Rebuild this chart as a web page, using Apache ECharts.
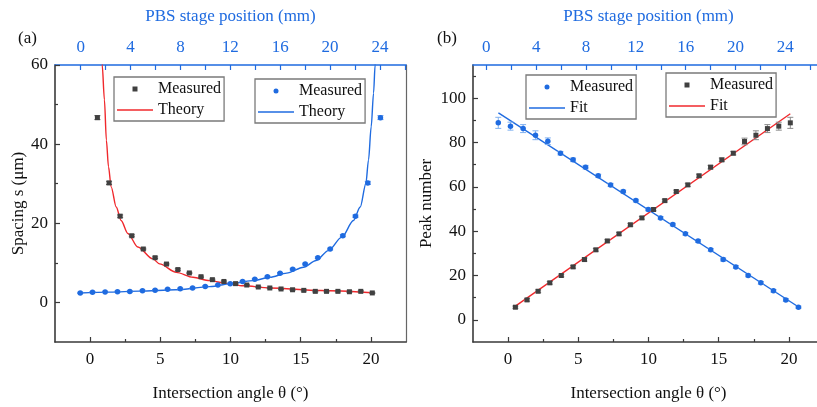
<!DOCTYPE html>
<html>
<head>
<meta charset="utf-8">
<script src="https://cdn.jsdelivr.net/npm/echarts@6/dist/echarts.min.js"></script>
<style>
  html, body { margin: 0; padding: 0; background: #fff; }
  #chart { width: 817px; height: 407px; }
</style>
</head>
<body>
<div id="chart"></div>
<script>
// intersection angles (deg) of the two measured sets
var angleBlue = [-0.7, 0.17, 1.07, 1.95, 2.83, 3.73, 4.63, 5.52, 6.42, 7.3, 8.2, 9.1, 9.98,
  10.86, 11.73, 12.63, 13.53, 14.43, 15.32, 16.22, 17.1, 18.0, 18.9, 19.78, 20.68];
var angleBlack = [0.52, 1.35, 2.14, 2.97, 3.79, 4.63, 5.44, 6.25, 7.07, 7.9, 8.71, 9.53, 10.36,
  11.16, 11.98, 12.8, 13.6, 14.42, 15.22, 16.04, 16.84, 17.65, 18.47, 19.28, 20.1];

// (a) spacing s (um)
var spacingBlack = [46.7, 30.2, 21.8, 16.85, 13.5, 11.3, 9.7, 8.3, 7.45, 6.5, 5.75, 5.3, 4.75,
  4.4, 3.9, 3.65, 3.4, 3.2, 3.05, 2.8, 2.8, 2.8, 2.7, 2.8, 2.4];
var errSpacingBlack = [0.5, 0.4, 0.3, 0.25, 0.2, 0.2, 0.2, 0.2, 0.15, 0.15, 0.15, 0.15, 0.15,
  0.15, 0.15, 0.15, 0.15, 0.15, 0.15, 0.15, 0.15, 0.15, 0.15, 0.15, 0.15];
var spacingBlue = [2.4, 2.6, 2.65, 2.7, 2.75, 2.95, 3.1, 3.3, 3.45, 3.65, 4.05, 4.4, 4.7,
  5.3, 5.85, 6.5, 7.35, 8.4, 9.7, 11.3, 13.5, 16.85, 21.8, 30.2, 46.7];
var errSpacingBlue = [0.15, 0.15, 0.15, 0.15, 0.15, 0.15, 0.15, 0.15, 0.15, 0.15, 0.15, 0.15, 0.15,
  0.15, 0.15, 0.15, 0.2, 0.2, 0.2, 0.2, 0.2, 0.25, 0.3, 0.4, 0.5];
var theoryRed = [[0.84, 64], [0.86, 60.1], [1.02, 51.2], [1.16, 41.0], [1.31, 34.3], [1.5, 29.2],
  [1.86, 24.1], [2.21, 20.7], [2.69, 17.4], [3.4, 14.0], [4.47, 11.0], [4.95, 9.75], [6.14, 7.6],
  [7.33, 6.35], [8.5, 5.5], [9.7, 4.8], [10.9, 4.2], [12.8, 3.65], [16.4, 3.0], [20.1, 2.45]];
var theoryBlue = [[-0.74, 2.4], [1.4, 2.6], [3.5, 2.85], [6.1, 3.2], [8.5, 4.0], [10.4, 4.95],
  [11.6, 5.5], [12.8, 6.35], [14.0, 7.4], [15.2, 8.9], [16.1, 10.6], [16.97, 13.1], [17.93, 16.5],
  [18.76, 20.7], [19.24, 24.1], [19.64, 30.0], [19.83, 36.0], [20.02, 44.4], [20.19, 52.9],
  [20.3, 60], [20.33, 64]];

// (b) peak number
var peaksBlue = [88.9, 87.4, 86.3, 83.3, 80.6, 75.2, 72.2, 68.9, 65.0, 60.9, 57.9, 53.8, 49.8,
  46.0, 43.0, 38.8, 35.6, 31.6, 27.2, 23.9, 20.0, 16.7, 13.1, 9.0, 5.7];
var errPeaksBlue = [2.5, 1.8, 1.8, 2.0, 1.5, 0.8, 0.8, 0.8, 0.7, 0.7, 0.6, 0.6, 0.6,
  0.6, 0.6, 0.6, 0.6, 0.6, 0.7, 0.6, 0.6, 0.6, 0.6, 0.6, 0.5];
var peaksBlack = [5.7, 9.0, 12.9, 16.7, 20.0, 23.9, 27.2, 31.6, 35.6, 38.8, 42.9, 46.0, 49.8,
  53.8, 57.9, 60.9, 65.0, 68.9, 72.2, 75.2, 80.5, 83.3, 86.3, 87.4, 88.9];
var errPeaksBlack = [0.5, 0.6, 0.6, 0.6, 0.6, 0.6, 0.7, 0.6, 0.6, 0.6, 0.6, 0.6, 0.6,
  0.6, 0.6, 0.7, 0.7, 0.8, 0.8, 0.8, 1.5, 2.0, 1.8, 1.8, 2.5];
var fitBlue = [[-0.69, 93.4], [20.69, 5.8]];
var fitRed = [[0.52, 6.2], [20.1, 93.0]];

// ticks
var angleMajor = [0, 5, 10, 15, 20];
var angleMinor = [2.5, 7.5, 12.5, 17.5];
var mmTicks = [0, 2, 4, 6, 8, 10, 12, 14, 16, 18, 20, 22, 24, 26];
var mmLabels = [0, 4, 8, 12, 16, 20, 24];
var spacingMajor = [0, 20, 40, 60];
var spacingMinor = [10, 30, 50];
var peaksMajor = [0, 20, 40, 60, 80, 100];
var peaksMinor = [10, 30, 50, 70, 90, 110];

var FONT = 'Liberation Serif';
var DARK = '#3a3a3a';
var BLUE = '#1f6be0';
var RED = '#f0282c';
var GRAY_SQ = '#404040';

function zip(xs, ys) {
  return xs.map(function (x, i) { return [x, ys[i]]; });
}
function zipErr(xs, ys, es) {
  return xs.map(function (x, i) { return [x, ys[i] - es[i], ys[i] + es[i]]; });
}

var chart = echarts.init(document.getElementById('chart'));

var xAxes = [];
var yAxes = [];

function addPanel(g, yMin, yMax, yMajor, yMinor, mmMin, mmMax, yName, yNameGap) {
  var labelStyle = { fontFamily: FONT, fontSize: 17, color: '#111' };
  xAxes.push({
    type: 'value', gridIndex: g, position: 'bottom', min: -2.5, max: 22.5,
    axisLine: { onZero: false, lineStyle: { color: DARK, width: 1.6 } },
    axisTick: { inside: true, length: 5, customValues: angleMajor, lineStyle: { color: DARK, width: 1.2 } },
    axisLabel: Object.assign({ customValues: angleMajor, margin: 9 }, labelStyle),
    splitLine: { show: false },
    name: 'Intersection angle θ (°)', nameLocation: 'middle', nameGap: 43,
    nameTextStyle: labelStyle
  });
  xAxes.push({
    type: 'value', gridIndex: g, position: 'bottom', min: -2.5, max: 22.5,
    axisLine: { show: false, onZero: false },
    axisTick: { inside: true, length: 3, customValues: angleMinor, lineStyle: { color: DARK, width: 1.2 } },
    axisLabel: { show: false }, splitLine: { show: false }
  });
  xAxes.push({
    type: 'value', gridIndex: g, position: 'top', min: mmMin, max: mmMax,
    axisLine: { onZero: false, lineStyle: { color: BLUE, width: 1.6 } },
    axisTick: { inside: true, length: 5, customValues: mmTicks, lineStyle: { color: BLUE, width: 1.2 } },
    axisLabel: { customValues: mmLabels, margin: 9, fontFamily: FONT, fontSize: 17, color: BLUE },
    splitLine: { show: false },
    name: 'PBS stage position (mm)', nameLocation: 'middle', nameGap: 40,
    nameTextStyle: { fontFamily: FONT, fontSize: 17, color: BLUE }
  });
  yAxes.push({
    type: 'value', gridIndex: g, position: 'left', min: yMin, max: yMax,
    axisLine: { show: true, onZero: false, lineStyle: { color: DARK, width: 1.6 } },
    axisTick: { show: true, inside: true, length: 5, customValues: yMajor, lineStyle: { color: DARK, width: 1.2 } },
    axisLabel: Object.assign({ customValues: yMajor, margin: 7 }, labelStyle),
    splitLine: { show: false },
    name: yName, nameLocation: 'middle', nameGap: yNameGap, nameTextStyle: labelStyle
  });
  yAxes.push({
    type: 'value', gridIndex: g, position: 'left', min: yMin, max: yMax,
    axisLine: { show: false, onZero: false },
    axisTick: { show: true, inside: true, length: 3, customValues: yMinor, lineStyle: { color: DARK, width: 1.2 } },
    axisLabel: { show: false }, splitLine: { show: false }
  });
  yAxes.push({
    type: 'value', gridIndex: g, position: 'right', min: yMin, max: yMax,
    axisLine: { show: true, onZero: false, lineStyle: { color: '#666', width: 1.2 } },
    axisTick: { show: false }, axisLabel: { show: false }, splitLine: { show: false }
  });
}

addPanel(0, -10, 60, spacingMajor, spacingMinor, -2.06, 26.09, 'Spacing s (μm)', 28);
addPanel(1, -10, 115, peaksMajor, peaksMinor, -1.07, 27.1, 'Peak number', 38);

function errorBar(color) {
  return function (params, api) {
    var x = api.value(0);
    var p1 = api.coord([x, api.value(1)]);
    var p2 = api.coord([x, api.value(2)]);
    var w = 3;
    var st = { stroke: color, lineWidth: 1 };
    return {
      type: 'group',
      children: [
        { type: 'line', shape: { x1: p1[0], y1: p1[1], x2: p2[0], y2: p2[1] }, style: st },
        { type: 'line', shape: { x1: p1[0] - w, y1: p1[1], x2: p1[0] + w, y2: p1[1] }, style: st },
        { type: 'line', shape: { x1: p2[0] - w, y1: p2[1], x2: p2[0] + w, y2: p2[1] }, style: st }
      ]
    };
  };
}

function errSeries(xi, data, color) {
  return {
    type: 'custom', xAxisIndex: xi, yAxisIndex: xi, data: data,
    renderItem: errorBar(color), encode: { x: 0, y: [1, 2] }, silent: true, z: 3
  };
}

function lineSeries(name, xi, data, color, smooth) {
  return {
    name: name, type: 'line', xAxisIndex: xi, yAxisIndex: xi, data: data,
    symbol: 'none', smooth: smooth, smoothMonotone: 'x', clip: true,
    lineStyle: { color: color, width: 1.4 }, itemStyle: { color: color }, z: 2
  };
}

function pointSeries(name, xi, data, color, symbol) {
  return {
    name: name, type: 'scatter', xAxisIndex: xi, yAxisIndex: xi, data: data,
    symbol: symbol, symbolSize: symbol === 'rect' ? 5 : 5.5,
    itemStyle: { color: color, opacity: 1 }, z: 4
  };
}

var SQ_ICON = 'path://M0,0H5V5H0Z';
var DOT_ICON = 'path://M2.5,0A2.5,2.5,0,1,1,2.5,5A2.5,2.5,0,1,1,2.5,0Z';
var LINE_ICON = 'path://M0,0H36V1.4H0Z';

function legendBox(left, top, items) {
  return {
    orient: 'vertical', left: left, top: top, itemWidth: 36, itemHeight: 5, itemGap: 5,
    padding: [4, 3, 3, 3], borderColor: '#7a7a7a', borderWidth: 1.3, backgroundColor: '#fff',
    selectedMode: false,
    textStyle: { fontFamily: FONT, fontSize: 16, color: '#111' },
    formatter: function (n) { return n.trim(); },
    data: items
  };
}

var option = {
  animation: false,
  backgroundColor: '#fff',
  title: [
    { text: '(a)', left: 18, top: 30, padding: 0, textStyle: { fontFamily: FONT, fontSize: 17, fontWeight: 'normal', color: '#111' } },
    { text: '(b)', left: 437, top: 30, padding: 0, textStyle: { fontFamily: FONT, fontSize: 17, fontWeight: 'normal', color: '#111' } }
  ],
  grid: [
    { left: 55, top: 65, width: 351, height: 277, outerBoundsMode: 'none' },
    { left: 473, top: 65, width: 351, height: 277, outerBoundsMode: 'none' }
  ],
  legend: [
    legendBox(114, 77, [
      { name: 'Measured', icon: SQ_ICON, itemStyle: { color: GRAY_SQ, borderWidth: 0 } },
      { name: 'Theory', icon: LINE_ICON, itemStyle: { color: RED, borderWidth: 0 } }
    ]),
    legendBox(255, 79, [
      { name: 'Measured ', icon: DOT_ICON, itemStyle: { color: BLUE, borderWidth: 0 } },
      { name: 'Theory ', icon: LINE_ICON, itemStyle: { color: BLUE, borderWidth: 0 } }
    ]),
    legendBox(526, 75, [
      { name: 'Measured  ', icon: DOT_ICON, itemStyle: { color: BLUE, borderWidth: 0 } },
      { name: 'Fit', icon: LINE_ICON, itemStyle: { color: BLUE, borderWidth: 0 } }
    ]),
    legendBox(666, 73, [
      { name: 'Measured   ', icon: SQ_ICON, itemStyle: { color: GRAY_SQ, borderWidth: 0 } },
      { name: 'Fit ', icon: LINE_ICON, itemStyle: { color: RED, borderWidth: 0 } }
    ])
  ],
  xAxis: xAxes,
  yAxis: yAxes,
  series: [
    // panel (a)
    lineSeries('Theory', 0, theoryRed, RED, 0.3),
    lineSeries('Theory ', 0, theoryBlue, BLUE, 0.3),
    errSeries(0, zipErr(angleBlack, spacingBlack, errSpacingBlack), '#666'),
    errSeries(0, zipErr(angleBlue, spacingBlue, errSpacingBlue), '#5b95ea'),
    pointSeries('Measured', 0, zip(angleBlack, spacingBlack), GRAY_SQ, 'rect'),
    pointSeries('Measured ', 0, zip(angleBlue, spacingBlue), BLUE, 'circle'),
    // panel (b)
    lineSeries('Fit', 3, fitBlue, BLUE, false),
    lineSeries('Fit ', 3, fitRed, RED, false),
    errSeries(3, zipErr(angleBlue, peaksBlue, errPeaksBlue), '#7fb0f0'),
    errSeries(3, zipErr(angleBlack, peaksBlack, errPeaksBlack), '#8a8a8a'),
    pointSeries('Measured  ', 3, zip(angleBlue, peaksBlue), BLUE, 'circle'),
    pointSeries('Measured   ', 3, zip(angleBlack, peaksBlack), GRAY_SQ, 'rect')
  ]
};

chart.setOption(option);
</script>
</body>
</html>
